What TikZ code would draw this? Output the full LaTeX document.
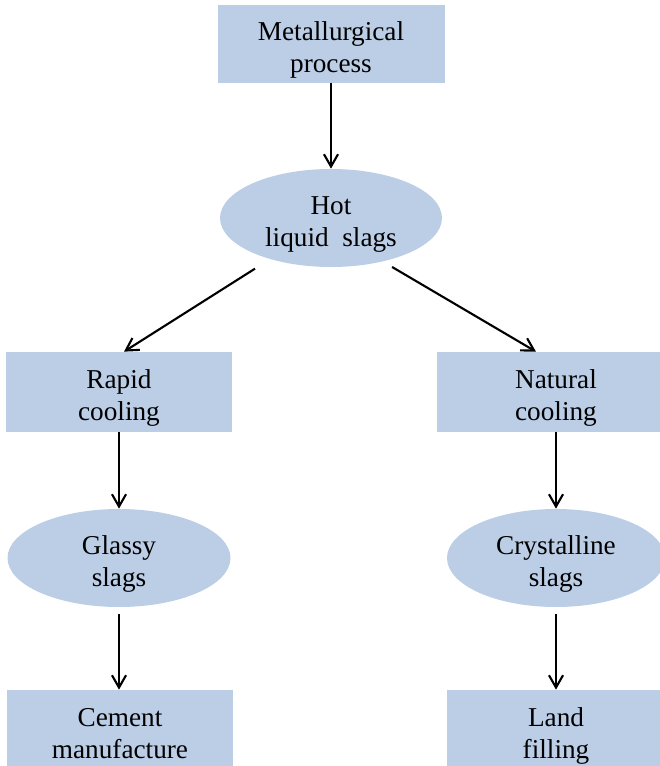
\documentclass[tikz,border=0pt]{standalone}
\usepackage{fontspec}
\setmainfont{Liberation Serif}
\usepackage{tikz}
\usetikzlibrary{arrows.meta, shapes.geometric}
\usepackage{xcolor}
\definecolor{slagblue}{RGB}{187,206,230}
% two centred lines, set a little low in their shape
\newcommand{\twolines}[2]{\raisebox{-3.5pt}[\height][\depth]{\begin{tabular}{@{}c@{}}#1\\#2\end{tabular}}}

\begin{document}
\begin{tikzpicture}[
  block/.style={rectangle, fill=slagblue, minimum width=4.52cm, minimum height=1.6cm, inner sep=0pt, font=\fontsize{15.5}{18.5}\selectfont},
  blob/.style={ellipse, fill=slagblue, minimum width=4.44cm, minimum height=1.96cm, inner sep=0pt, font=\fontsize{15.5}{18.5}\selectfont},
  arrow/.style={draw, line width=1.2pt, -{Straight Barb[length=7pt, width=8pt, line width=1.2pt]}}
]
\useasboundingbox (0,0) rectangle (13.18,-15.32);

% Top
\node[block, minimum width=4.54cm, minimum height=1.56cm] (metal) at (6.62,-0.88) {\twolines{Metallurgical}{process}};
\node[blob] (hot) at (6.62,-4.36) {\twolines{Hot}{liquid\ \ slags}};

% Cooling
\node[block] (rapid) at (2.38,-7.84) {\twolines{Rapid}{cooling}};
\node[block, minimum width=4.76cm] (natural) at (11.12,-7.84) {\twolines{Natural}{cooling}};

% Slags
\node[blob, minimum width=4.46cm] (glassy) at (2.38,-11.16) {\twolines{Glassy}{slags}};
\node[blob, minimum width=4.36cm] (crystal) at (11.12,-11.16) {\twolines{Crystalline}{slags}};

% Uses
\node[block] (cement) at (2.40,-14.60) {\twolines{Cement}{manufacture}};
\node[block, minimum width=4.36cm] (land) at (11.12,-14.60) {\twolines{Land}{filling}};

% Connections
\draw[arrow] (metal.south) -- (hot.north);
\draw[arrow, shorten <=10pt] (hot.-146) -- ([xshift=0.1cm]rapid.north);
\draw[arrow, shorten <=6pt] (hot.-40) -- ([xshift=-0.4cm]natural.north);

\draw[arrow] (rapid.south) -- (glassy.north);
\draw[arrow] (natural.south) -- (crystal.north);

\draw[arrow, shorten <=4pt] (glassy.south) -- (glassy.south |- cement.north);
\draw[arrow, shorten <=4pt] (crystal.south) -- (land.north);

\end{tikzpicture}
\end{document}
